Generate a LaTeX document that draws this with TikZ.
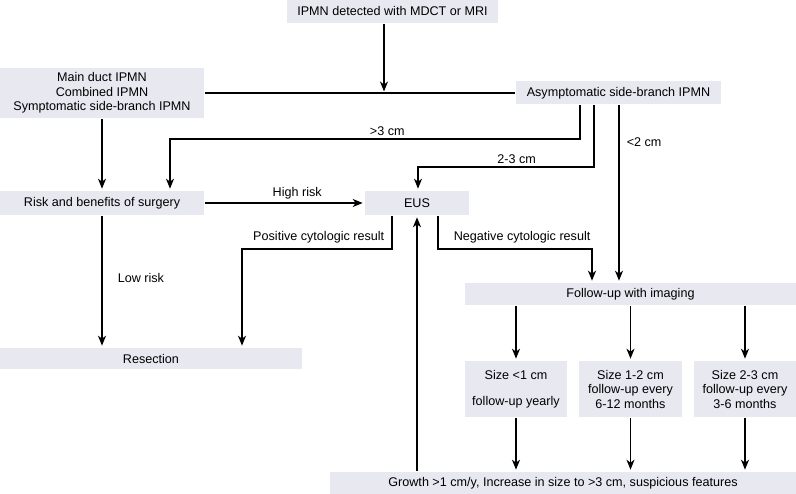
\documentclass[tikz,border=0pt]{standalone}
\usepackage{fontspec}
\setmainfont{Liberation Sans}
\usetikzlibrary{arrows.meta}
\definecolor{boxgray}{RGB}{232,232,241}

\begin{document}
\begin{tikzpicture}[x=1pt,y=-1pt,line width=1.6pt,
    >={Stealth[length=10pt,width=8pt,inset=3pt]},
    font=\fontsize{12.6}{14.5}\selectfont]

        \useasboundingbox (0,0) rectangle (796,494);

        \begin{scope}[every node/.style={fill=boxgray,inner sep=0pt,align=center}]
          \node[minimum width=211,minimum height=23] (detect) at (392.5,11.5) {IPMN detected with MDCT or MRI};
          \node[minimum width=204,minimum height=50] (main)   at (102,93)     {Main duct IPMN\\Combined IPMN\\Symptomatic side-branch IPMN};
          \node[minimum width=205,minimum height=23] (asym)   at (618.5,93)   {Asymptomatic side-branch IPMN};
          \node[minimum width=204,minimum height=24] (risk)   at (102,203)    {Risk and benefits of surgery};
          \node[minimum width=104,minimum height=24] (eus)    at (417,203)    {EUS};
          \node[minimum width=302,minimum height=21] (resect) at (151,358.5)  {Resection};
          \node[minimum width=331,minimum height=22] (follow) at (630.5,294)  {Follow-up with imaging};
          \node[minimum width=102,minimum height=56] (small)  at (516,389)    {Size <1 cm\\[12pt]follow-up yearly};
          \node[minimum width=103,minimum height=56] (medium) at (630.5,389)  {Size 1-2 cm\\follow-up every\\6-12 months};
          \node[minimum width=102,minimum height=56] (large)  at (745,389)    {Size 2-3 cm\\follow-up every\\3-6 months};
          \node[minimum width=466,minimum height=22] (growth) at (563,483)    {Growth >1 cm/y, Increase in size to >3 cm, suspicious features};
        \end{scope}

        % bends of the routed lines
        \coordinate (join) at (384,93);
        \coordinate (gt)   at (580,139);
        \coordinate (gtl)  at (170,139);
        \coordinate (mid)  at (594,167);
        \coordinate (midl) at (418,167);
        \coordinate (lt)   at (619,105);
        \coordinate (pos)  at (392,249);
        \coordinate (posl) at (242,249);
        \coordinate (neg)  at (438,249);
        \coordinate (negr) at (592,249);

        \begin{scope}[every node/.style={inner sep=3pt},shorten >=1.5pt]
          \draw[->] (detect.south -| join) -- (join);
          \draw[shorten >=0pt] (main) -- (asym);
          \draw[->] (main) -- (risk);
          \draw[->] (asym.south -| gt) -- (gt) -- node[above,pos=0.47] {>3 cm} (gtl) -- (risk.north -| gtl);
          \draw[->] (asym.south -| mid) -- (mid) -- node[above,pos=0.44] {2-3 cm} (midl) -- (eus.north -| midl);
          \draw[->] (lt) -- node[right,pos=0.21,xshift=4pt] {<2 cm} (follow.north -| lt);
          \draw[->] (risk) -- node[above,pos=0.58] {High risk} (eus);
          \draw[->] (risk) -- node[right,pos=0.47,xshift=12pt] {Low risk} (resect.north -| risk);
          \draw[->] (eus.south -| pos) -- node[left,pos=0.65,xshift=-4pt] {Positive cytologic result} (pos) -- (posl) -- (resect.north -| posl);
          \draw[->] (eus.south -| neg) -- node[right,pos=0.65,xshift=12pt] {Negative cytologic result} (neg) -- (negr) -- (follow.north -| negr);
          \draw[->] (growth.north -| eus) -- (eus);
          \draw[->] (follow.south -| small) -- (small);
          \draw[->] (follow.south -| medium) -- (medium);
          \draw[->] (follow.south -| large) -- (large);
          \draw[->] (small) -- (growth.north -| small);
          \draw[->] (medium) -- (growth.north -| medium);
          \draw[->] (large) -- (growth.north -| large);
        \end{scope}

      \end{tikzpicture}
\end{document}
